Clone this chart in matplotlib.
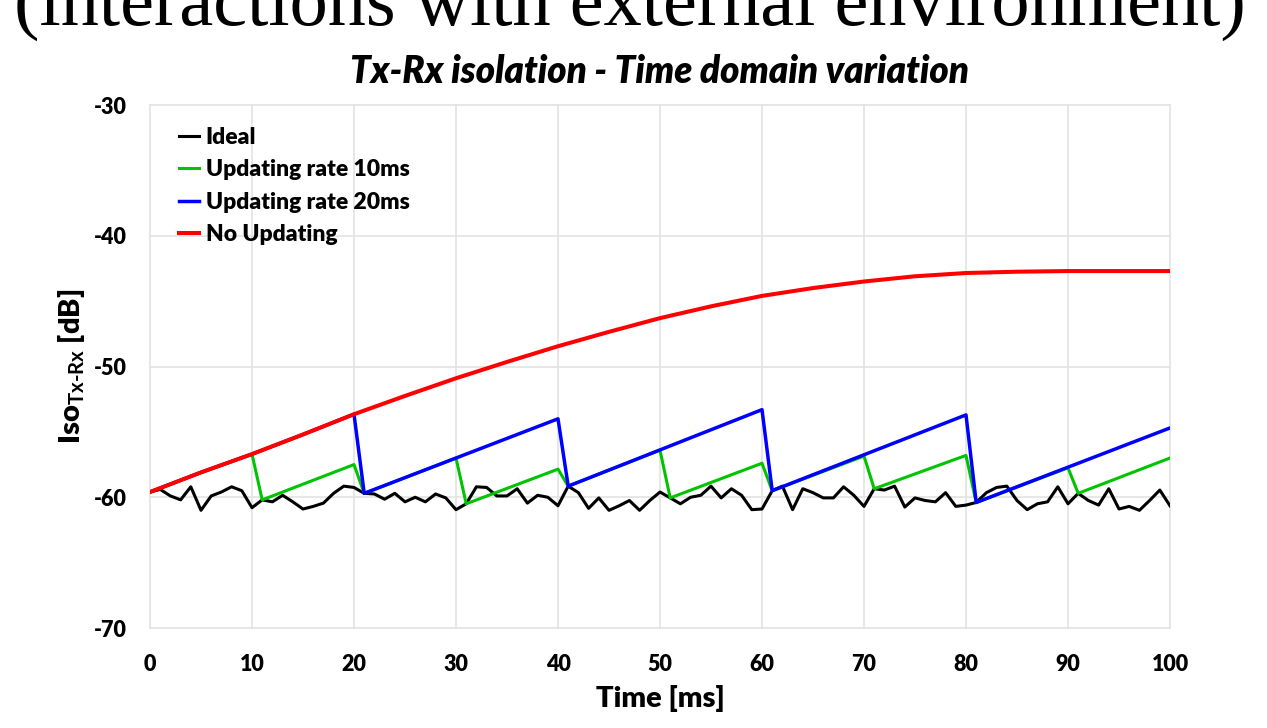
import numpy as np
import matplotlib.pyplot as plt

# ---------- datos ----------
t_ideal = list(range(0, 101))
iso_ideal = [-59.6, -59.4, -59.9, -60.2, -59.2, -61.0, -59.9, -59.6, -59.2, -59.5,
             -60.8, -60.2, -60.35, -59.85, -60.35, -60.9, -60.7, -60.45, -59.7, -59.15,
             -59.25, -59.7, -59.75, -60.15, -59.7, -60.35, -60.0, -60.35, -59.75, -60.05,
             -60.95, -60.5, -59.2, -59.25, -59.9, -59.9, -59.35, -60.45, -59.85, -60.0,
             -60.65, -59.15, -59.65, -60.85, -60.05, -61.0, -60.65, -60.25, -61.0, -60.25,
             -59.6, -60.05, -60.5, -60.0, -59.85, -59.15, -60.05, -59.35, -59.85, -60.95,
             -60.9, -59.5, -59.15, -60.95, -59.35, -59.65, -60.05, -60.05, -59.2, -59.85,
             -60.7, -59.35, -59.45, -59.15, -60.75, -60.05, -60.25, -60.35, -59.65, -60.7,
             -60.6, -60.4, -59.65, -59.25, -59.15, -60.25, -60.95, -60.5, -60.35, -59.2,
             -60.5, -59.7, -60.25, -60.6, -59.35, -60.9, -60.7, -61.0, -60.25, -59.45,
             -60.65]

t_noupd = [0, 5, 10, 15, 20, 25, 30, 35, 40, 45, 50, 55, 60, 65, 70, 75, 80, 85, 90, 95, 100]
iso_noupd = [-59.6, -58.1, -56.7, -55.2, -53.65, -52.25, -50.9, -49.65, -48.45, -47.35,
             -46.3, -45.4, -44.6, -44.0, -43.5, -43.1, -42.85, -42.75, -42.7, -42.7, -42.7]

t_10ms = [0, 5, 10, 11, 20, 21, 30, 31, 40, 41, 50, 51, 60, 61, 70, 71, 80, 81, 90, 91, 100]
iso_10ms = [-59.6, -58.1, -56.7, -60.2, -57.5, -59.7, -57.0, -60.5, -57.85, -59.15,
            -56.4, -60.05, -57.4, -59.5, -56.85, -59.35, -56.8, -60.4, -57.75, -59.7, -57.0]

t_20ms = [0, 5, 10, 15, 20, 21, 40, 41, 60, 61, 80, 81, 100]
iso_20ms = [-59.6, -58.1, -56.7, -55.2, -53.65, -59.7, -54.0, -59.15, -53.3, -59.5,
            -53.7, -60.4, -54.7]

xticks = list(range(0, 101, 10))
yticks = [-70, -60, -50, -40, -30]
# -----------------------------------------------

plt.rcParams['font.family'] = ['Lato', 'DejaVu Sans']
plt.rcParams['font.weight'] = 'bold'
plt.rcParams['axes.unicode_minus'] = False
plt.rcParams['mathtext.fontset'] = 'custom'
plt.rcParams['mathtext.rm'] = 'Lato:bold'
plt.rcParams['mathtext.it'] = 'Lato:bold:italic'
plt.rcParams['mathtext.bf'] = 'Lato:bold'

fig = plt.figure(figsize=(12.67, 7.28), dpi=100)
ax = fig.add_axes([150/1267, 1-628/728, 1020/1267, 523/728])

ax.plot(t_ideal, iso_ideal, color='black', lw=2.2, label='Ideal')
ax.plot(t_10ms, iso_10ms, color='#00C400', lw=2.2, label='Updating rate 10ms')
ax.plot(t_20ms, iso_20ms, color='#0000FF', lw=2.5, label='Updating rate 20ms')
ax.plot(t_noupd, iso_noupd, color='#FF0000', lw=2.9, label='No Updating')

ax.set_xlim(0, 100)
ax.set_ylim(-70, -30)
ax.set_xticks(xticks)
ax.set_yticks(yticks)
ax.tick_params(length=0, labelsize=15.5)
ax.tick_params(axis='x', pad=19)
ax.tick_params(axis='y', pad=17)
for lbl in ax.get_yticklabels() + ax.get_xticklabels():
    lbl.set_fontweight('heavy')
for s in ax.spines.values():
    s.set_visible(False)
ax.grid(True, color='#e3e3e3', lw=1.2, clip_on=False)
ax.set_axisbelow(True)

ax.set_title('Tx-Rx isolation - Time domain variation', fontsize=26.5,
             fontweight='heavy', style='italic', pad=16)
ax.set_xlabel('Time [ms]', fontsize=21, fontweight='heavy', labelpad=7)
ax.set_ylabel(r'Iso$_{\mathrm{Tx}\text{-}\mathrm{Rx}}$ [dB]', fontsize=21,
              fontweight='heavy', labelpad=5)

leg = ax.legend(loc='upper left', bbox_to_anchor=(0.005, 1.004), frameon=False,
                fontsize=16.5, handlelength=0.85, handletextpad=0.3,
                labelspacing=0.5, borderaxespad=0.55, borderpad=0.5)
for txt in leg.get_texts():
    txt.set_fontweight('heavy')

fig.text(0.497, 1-25/728, '(interactions with external environment)',
         family='Liberation Serif', fontweight='normal', fontsize=55,
         ha='center', va='baseline')

fig.savefig('out.png', dpi=100)
